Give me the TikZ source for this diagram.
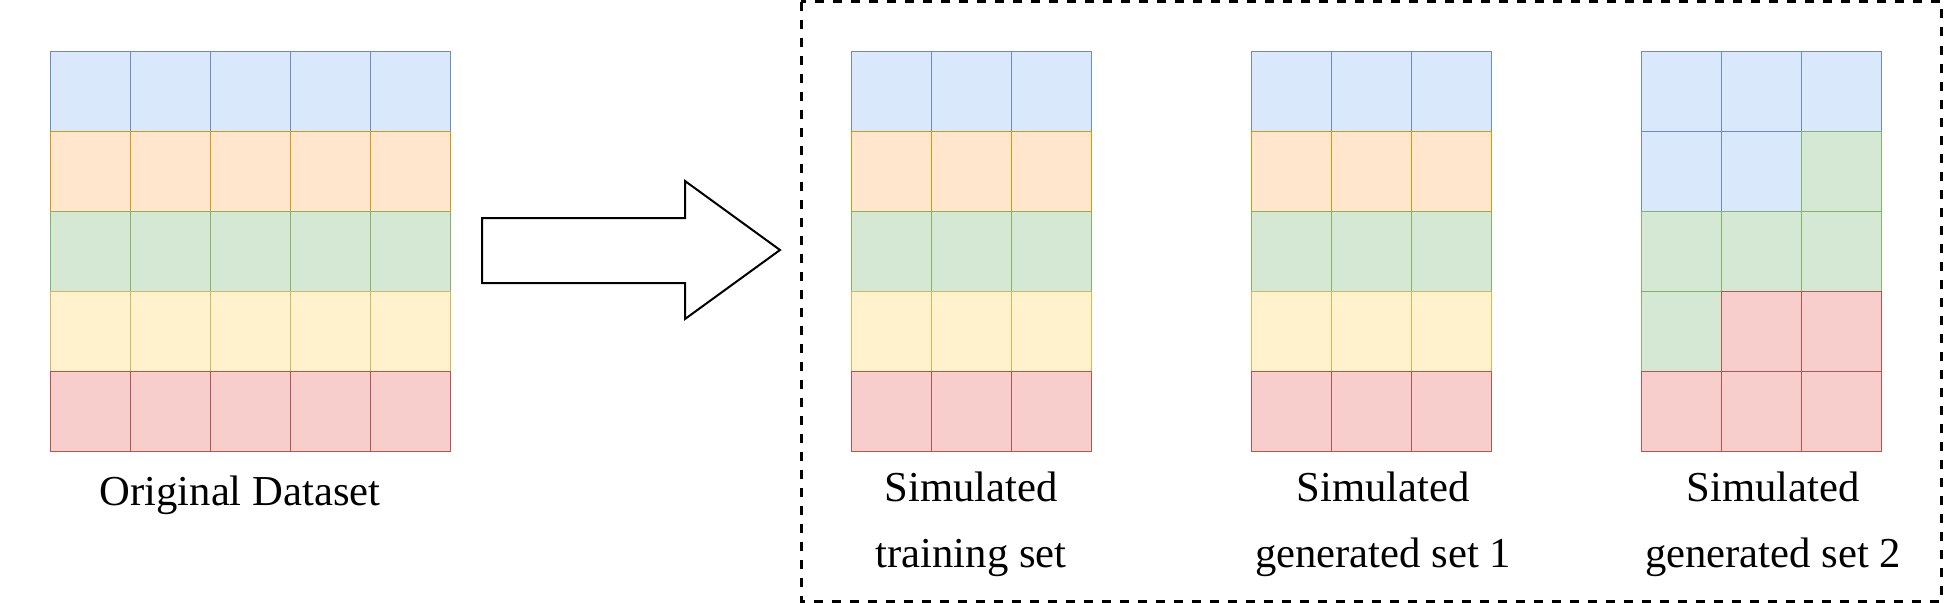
\documentclass[tikz,border=0pt]{standalone}
\usepackage{fontspec}
\setmainfont{Liberation Serif}

\definecolor{bluefill}{HTML}{DAE8FC}
\definecolor{bluedraw}{HTML}{6C8EBF}
\definecolor{orangefill}{HTML}{FFE6CC}
\definecolor{orangedraw}{HTML}{D79B00}
\definecolor{greenfill}{HTML}{D5E8D4}
\definecolor{greendraw}{HTML}{82B366}
\definecolor{yellowfill}{HTML}{FFF2CC}
\definecolor{yellowdraw}{HTML}{D6B656}
\definecolor{redfill}{HTML}{F8CECC}
\definecolor{reddraw}{HTML}{B85450}

\tikzset{every picture/.style={line width=0.75pt}}
\tikzset{
  cellB/.style={fill=bluefill,draw=bluedraw},
  cellO/.style={fill=orangefill,draw=orangedraw},
  cellG/.style={fill=greenfill,draw=greendraw},
  cellY/.style={fill=yellowfill,draw=yellowdraw},
  cellR/.style={fill=redfill,draw=reddraw},
  caption/.style={font=\fontsize{32}{49.5}\selectfont,inner sep=0pt,align=center}
}

\begin{document}
\begin{tikzpicture}[x=0.75pt,y=0.75pt,yscale=-1,xscale=1]
    \useasboundingbox (0,0) rectangle (1957,603);

    %Shape: Table [id:original]
    \foreach \r/\c in {0/cellB,1/cellO,2/cellG,3/cellY,4/cellR}
      \foreach \k in {0,...,4}
        \draw [\c] ({50+80*\k},{51+80*\r}) rectangle ++(80,80);

    %Shape: Right Arrow [id:arrow]
    \draw [line width=1.5pt] (482,218) -- (685,218) -- (685,181) -- (780,250) -- (685,319) -- (685,283) -- (482,283) -- cycle ;

    %Shape: Rectangle [id:dashedbox]
    \draw [line width=2.25pt, dash pattern=on 6.75pt off 6.75pt] (801,1.5) rectangle (1941,601) ;

    %Shape: Table [id:training] and [id:generated1]
    \foreach \x in {851,1251}
      \foreach \r/\c in {0/cellB,1/cellO,2/cellG,3/cellY,4/cellR}
        \foreach \k in {0,1,2}
          \draw [\c] ({\x+80*\k},{51+80*\r}) rectangle ++(80,80);

    %Shape: Table [id:generated2]
    \foreach \c [count=\i from 0] in {cellB,cellB,cellB,cellB,cellB,cellG,cellG,cellG,cellG,cellG,cellR,cellR,cellR,cellR,cellR} {
      \pgfmathtruncatemacro{\k}{mod(\i,3)}
      \pgfmathtruncatemacro{\r}{\i/3}
      \draw [\c] ({1641+80*\k},{51+80*\r}) rectangle ++(80,80);
    }

    % Text Node
    \draw (240,505) node (orig) [anchor=base][caption] {Original Dataset};
    % Text Node
    \draw (971,567) node (train) [anchor=base][caption] {Simulated\\training set};
    % Text Node
    \draw (1383,567) node (gen1) [anchor=base][caption] {Simulated\\generated set 1};
    % Text Node
    \draw (1773,567) node (gen2) [anchor=base][caption] {Simulated\\generated set 2};

\end{tikzpicture}
\end{document}
